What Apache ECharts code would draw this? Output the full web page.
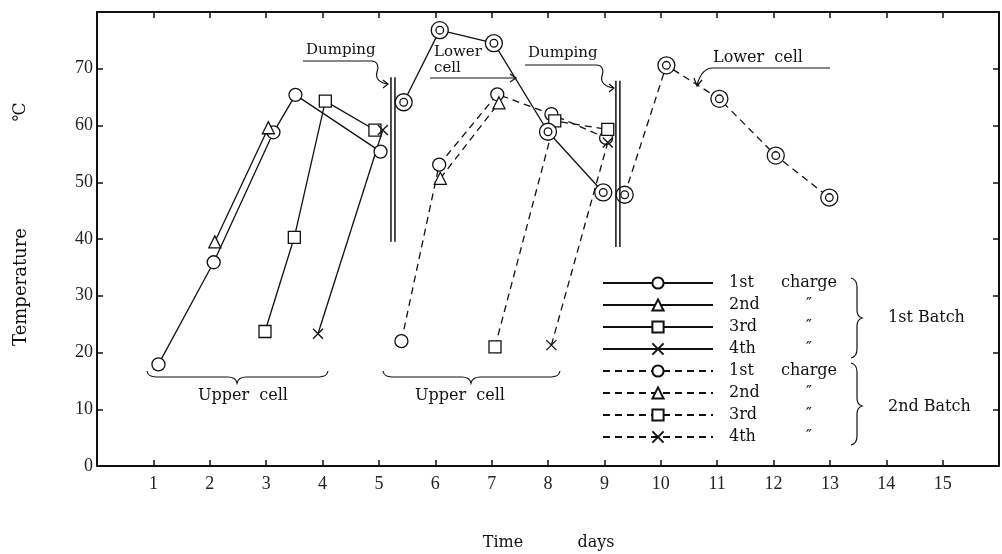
<!DOCTYPE html>
<html>
<head>
<meta charset="utf-8">
<title>Temperature vs time</title>
<script src="https://cdn.jsdelivr.net/npm/echarts@6/dist/echarts.min.js"></script>
<style>
  html, body { margin: 0; padding: 0; background: #fff; }
  #chart { width: 1002px; height: 554px; }
</style>
</head>
<body>
<div id="chart"></div>
<script>
// Temperature (°C) against time (days); each point is [day, temperature]
const batch1Charge1 = [[1.09, 17.9], [2.07, 35.9], [3.13, 58.8], [3.52, 65.4], [5.03, 55.4]];
const batch1Charge2 = [[2.09, 39.5], [3.04, 59.6]];
const batch1Charge3 = [[2.98, 23.7], [3.50, 40.3], [4.05, 64.3], [4.93, 59.2]];
const batch1Charge4 = [[3.92, 23.3], [5.07, 59.2]];
const batch1Lower   = [[5.44, 64.1], [6.08, 76.8], [7.04, 74.5], [8.00, 58.9], [8.98, 48.2]];

const batch2Charge1 = [[5.40, 22.0], [6.07, 53.1], [7.10, 65.5], [8.06, 62.0], [9.03, 57.8]];
const batch2Charge2 = [[6.09, 50.7], [7.13, 64.0]];
const batch2Charge3 = [[7.06, 21.0], [8.12, 60.8], [9.06, 59.3]];
const batch2Charge4 = [[8.06, 21.3], [9.06, 57.0]];
const batch2Lower   = [[9.36, 47.8], [10.10, 70.6], [11.04, 64.7], [12.04, 54.7], [12.99, 47.3]];

// Dumping walls: [day, bottom temperature, top temperature]
const dumpWalls = [[5.25, 39.5, 68.5], [9.24, 38.6, 67.9]];

// Legend wording
const chargeOrdinals = ['1st', '2nd', '3rd', '4th'];
const chargeUnits = ['charge', '\u2033', '\u2033', '\u2033'];
const batchNames = ['1st Batch', '2nd Batch'];

const xTickMax = 15;
const yTickMax = 70;

const NUM_FONT = "'Liberation Serif', 'DejaVu Serif', serif";
const TXT_FONT = "'DejaVu Serif', 'Liberation Serif', serif";
const INK = '#111';

const SYM_CIRCLE = 'circle';
const SYM_TRIANGLE = 'triangle';
const SYM_SQUARE = 'rect';
const SYM_CROSS = 'path://M0,0L10,10M10,0L0,10';
const SYM_RING = 'path://M20,10A10,10 0 1 1 0,10A10,10 0 1 1 20,10ZM14.5,10A4.5,4.5 0 1 1 5.5,10A4.5,4.5 0 1 1 14.5,10Z';

function curve(name, data, dashed, symbol, size) {
  return {
    type: 'line',
    name: name,
    data: data,
    symbol: symbol,
    symbolSize: size,
    showSymbol: true,
    animation: false,
    silent: true,
    lineStyle: { color: INK, width: 1.3, type: dashed ? [7, 5] : 'solid' },
    itemStyle: { color: '#fff', borderColor: INK, borderWidth: 1.3 },
    emphasis: { disabled: true },
    z: 3
  };
}

const legendNames = [];
const symbols = [SYM_CIRCLE, SYM_TRIANGLE, SYM_SQUARE, SYM_CROSS];
const symbolSizes = [13, 12, 12, 10];
const batch1 = [batch1Charge1, batch1Charge2, batch1Charge3, batch1Charge4];
const batch2 = [batch2Charge1, batch2Charge2, batch2Charge3, batch2Charge4];
const legendText = {};
const series = [];

[batch1, batch2].forEach(function (charges, b) {
  charges.forEach(function (data, i) {
    const name = batchNames[b] + ' ' + chargeOrdinals[i] + ' charge';
    legendNames.push(name);
    legendText[name] = '{o|' + chargeOrdinals[i] + '}{u|' + chargeUnits[i] + '}';
    series.push(curve(name, data, b === 1, symbols[i], symbolSizes[i]));
  });
});
series.push(curve('1st Batch lower cell', batch1Lower, false, SYM_RING, 17));
series.push(curve('2nd Batch lower cell', batch2Lower, true, SYM_RING, 17));

// Double wall drawn at each dumping time
series.push({
  type: 'custom',
  name: 'dumping',
  data: dumpWalls,
  silent: true,
  animation: false,
  z: 4,
  renderItem: function (params, api) {
    const top = api.coord([api.value(0), api.value(2)]);
    const bottom = api.coord([api.value(0), api.value(1)]);
    const wall = function (dx) {
      return {
        type: 'line',
        shape: { x1: top[0] + dx, y1: top[1], x2: bottom[0] + dx, y2: bottom[1] },
        style: { stroke: INK, lineWidth: 1.5 }
      };
    };
    return { type: 'group', children: [wall(-2), wall(2)] };
  }
});

// Leader arrows and braces (screen paths)
const notePaths = [
  // first dumping note
  'M303,61 L371,61 C378,61 379,67 377,72 C375,78 379,83 388,84 M383,80 L388,84 L383,88',
  // second dumping note
  'M525,65 L596,65 C603,65 604,71 602,76 C600,82 605,87 614,88 M609,84 L614,88 L609,92',
  // lower cell arrows
  'M430,78 L516,78 M510,74 L516,78 L510,82',
  'M830,68 L713,68 C705,68 700,74 697,85 M694,78 L697,86 L702,80',
  // upper cell braces
  'M147,371 C148,376 151,377 156,377 L228,377 C233,377 236,379 237,383 C238,379 241,377 246,377 L319,377 C324,377 327,376 328,371',
  'M383,371 C384,376 387,377 392,377 L462,377 C467,377 470,379 471,383 C472,379 475,377 480,377 L551,377 C556,377 559,376 560,371',
  // batch braces in the legend
  'M851,278 C855,279 857,282 857,287 L857,310 C857,315 859,317 862,318 C859,319 857,321 857,326 L857,349 C857,354 855,357 851,358',
  'M851,363 C855,364 857,367 857,372 L857,398 C857,403 859,405 862,406 C859,407 857,409 857,414 L857,436 C857,441 855,444 851,445'
];

series.push({
  type: 'custom',
  name: 'notes',
  data: [[0, 0]],
  silent: true,
  animation: false,
  clip: false,
  z: 5,
  renderItem: function () {
    return {
      type: 'group',
      children: notePaths.map(function (d) {
        return { type: 'path', shape: { pathData: d }, style: { stroke: INK, fill: null, lineWidth: 1.2 } };
      })
    };
  }
});

function text(str, x, y, size, align, rotation) {
  return {
    type: 'text', x: x, y: y, silent: true, rotation: rotation || 0,
    style: { text: str, font: size + 'px ' + TXT_FONT, fill: INK, align: align || 'left', verticalAlign: 'middle' }
  };
}

const graphics = [
  text('Temperature', 21, 287, 18, 'center', Math.PI / 2),
  text('\u2103', 21, 112, 17, 'center', Math.PI / 2),
  text('Time', 503, 543, 16, 'center'),
  text('days', 596, 543, 16, 'center'),
  text('Dumping', 306, 50, 15),
  text('Dumping', 528, 53, 15),
  text('Lower', 434, 52, 15),
  text('cell', 434, 68, 15),
  text('Lower  cell', 713, 58, 16),
  text('Upper  cell', 243, 396, 16, 'center'),
  text('Upper  cell', 460, 396, 16, 'center'),
  text(batchNames[0], 888, 318, 16),
  text(batchNames[1], 888, 407, 16)
];

const chart = echarts.init(document.getElementById('chart'), null, { renderer: 'canvas' });

const axisLineStyle = { color: INK, width: 2 };
const tickStyle = { color: INK, width: 1.5 };

chart.setOption({
  backgroundColor: '#fff',
  animation: false,
  grid: { left: 97, right: 3, top: 12, bottom: 88, containLabel: false },
  xAxis: [
    {
      type: 'value', min: 0, max: 16, interval: 1, position: 'bottom',
      axisLine: { show: true, onZero: false, lineStyle: axisLineStyle },
      axisTick: { show: true, inside: true, length: 6, lineStyle: tickStyle },
      splitLine: { show: false },
      axisLabel: {
        margin: 9, fontFamily: NUM_FONT, fontSize: 18, color: '#222',
        formatter: function (v) { return (v >= 1 && v <= xTickMax) ? String(v) : ''; }
      }
    },
    {
      type: 'value', min: 0, max: 16, interval: 1, position: 'top',
      axisLine: { show: true, onZero: false, lineStyle: axisLineStyle },
      axisTick: { show: true, inside: true, length: 6, lineStyle: tickStyle },
      splitLine: { show: false },
      axisLabel: { show: false }
    }
  ],
  yAxis: [
    {
      type: 'value', min: 0, max: 80, interval: 10, position: 'left',
      axisLine: { show: true, onZero: false, lineStyle: axisLineStyle },
      axisTick: { show: true, inside: true, length: 6, lineStyle: tickStyle },
      splitLine: { show: false },
      axisLabel: {
        margin: 4, fontFamily: NUM_FONT, fontSize: 18, color: '#222',
        formatter: function (v) { return v <= yTickMax ? String(v) : ''; }
      }
    },
    {
      type: 'value', min: 0, max: 80, interval: 10, position: 'right',
      axisLine: { show: true, onZero: false, lineStyle: axisLineStyle },
      axisTick: { show: true, inside: true, length: 6, lineStyle: tickStyle },
      splitLine: { show: false },
      axisLabel: { show: false }
    }
  ],
  legend: {
    data: legendNames,
    orient: 'vertical',
    left: 602,
    top: 275,
    padding: 0,
    itemWidth: 110,
    itemHeight: 14,
    itemGap: 6,
    selectedMode: false,
    inactiveColor: INK,
    formatter: function (name) { return legendText[name]; },
    textStyle: {
      fontFamily: TXT_FONT, fontSize: 16, color: INK,
      rich: {
        o: { fontFamily: TXT_FONT, fontSize: 16, color: INK, width: 50, padding: [0, 0, 0, 11], lineHeight: 14 },
        u: { fontFamily: TXT_FONT, fontSize: 16, color: INK, width: 60, align: 'center', lineHeight: 14 }
      }
    }
  },
  graphic: graphics,
  series: series
});
</script>
</body>
</html>
